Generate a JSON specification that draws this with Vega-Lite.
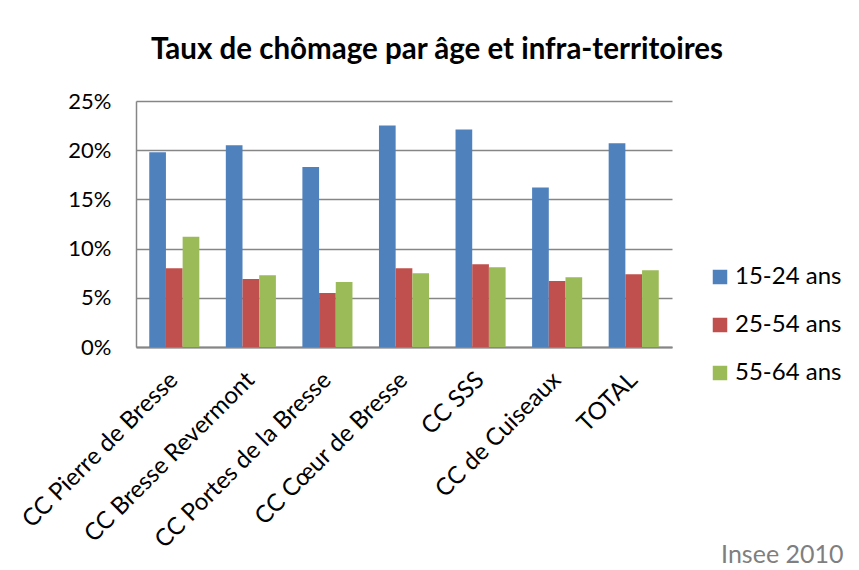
{
  "$schema": "https://vega.github.io/schema/vega-lite/v6.json",
  "width": 536,
  "height": 246,
  "autosize": {"type": "none"},
  "padding": {"left": 136, "top": 101, "right": 187, "bottom": 223},
  "background": "white",
  "title": {
    "text": "Taux de chômage par âge et infra-territoires",
    "font": "Lato",
    "fontSize": 29.5,
    "fontWeight": "bold",
    "color": "#000000",
    "anchor": "middle",
    "dx": 33,
    "baseline": "alphabetic",
    "offset": 2
  },
  "data": {
    "values": [
      {"territoire": "CC Pierre de Bresse", "age": "15-24 ans", "taux": 0.198},
      {"territoire": "CC Pierre de Bresse", "age": "25-54 ans", "taux": 0.080},
      {"territoire": "CC Pierre de Bresse", "age": "55-64 ans", "taux": 0.112},
      {"territoire": "CC Bresse Revermont", "age": "15-24 ans", "taux": 0.205},
      {"territoire": "CC Bresse Revermont", "age": "25-54 ans", "taux": 0.069},
      {"territoire": "CC Bresse Revermont", "age": "55-64 ans", "taux": 0.073},
      {"territoire": "CC Portes de la Bresse", "age": "15-24 ans", "taux": 0.183},
      {"territoire": "CC Portes de la Bresse", "age": "25-54 ans", "taux": 0.055},
      {"territoire": "CC Portes de la Bresse", "age": "55-64 ans", "taux": 0.066},
      {"territoire": "CC Cœur de Bresse", "age": "15-24 ans", "taux": 0.225},
      {"territoire": "CC Cœur de Bresse", "age": "25-54 ans", "taux": 0.080},
      {"territoire": "CC Cœur de Bresse", "age": "55-64 ans", "taux": 0.075},
      {"territoire": "CC SSS", "age": "15-24 ans", "taux": 0.221},
      {"territoire": "CC SSS", "age": "25-54 ans", "taux": 0.084},
      {"territoire": "CC SSS", "age": "55-64 ans", "taux": 0.081},
      {"territoire": "CC de Cuiseaux", "age": "15-24 ans", "taux": 0.162},
      {"territoire": "CC de Cuiseaux", "age": "25-54 ans", "taux": 0.067},
      {"territoire": "CC de Cuiseaux", "age": "55-64 ans", "taux": 0.071},
      {"territoire": "TOTAL", "age": "15-24 ans", "taux": 0.207},
      {"territoire": "TOTAL", "age": "25-54 ans", "taux": 0.074},
      {"territoire": "TOTAL", "age": "55-64 ans", "taux": 0.078}
    ]
  },
  "mark": {"type": "bar"},
  "encoding": {
    "x": {
      "field": "territoire",
      "type": "nominal",
      "sort": null,
      "scale": {"paddingInner": 0.346, "paddingOuter": 0.173},
      "axis": {
        "title": "Insee 2010",
        "titleFont": "Lato",
        "titleFontSize": 25,
        "titleFontWeight": "normal",
        "titleColor": "#7f7f7f",
        "titleAnchor": "end",
        "titleAlign": "right",
        "titleBaseline": "alphabetic",
        "titleX": 707,
        "titleY": 215,
        "labelAngle": -45,
        "labelAlign": "right",
        "labelBaseline": "middle",
        "labelPadding": 29,
        "labelFont": "Lato",
        "labelFontSize": 24,
        "labelColor": "#000000",
        "labelLimit": 400,
        "ticks": false,
        "domainColor": "#868686",
        "domainWidth": 2,
        "grid": false
      }
    },
    "xOffset": {"field": "age", "type": "nominal", "scale": {"paddingInner": 0, "paddingOuter": 0}},
    "y": {
      "field": "taux",
      "type": "quantitative",
      "scale": {"domain": [0, 0.25], "nice": false},
      "axis": {
        "title": null,
        "format": ".0%",
        "values": [0, 0.05, 0.1, 0.15, 0.2, 0.25],
        "labelFont": "Lato",
        "labelFontSize": 22,
        "labelColor": "#000000",
        "labelPadding": 25,
        "ticks": false,
        "domainColor": "#868686",
        "domainWidth": 1.5,
        "gridColor": "#868686",
        "gridWidth": 1.5,
        "gridOpacity": 1
      }
    },
    "color": {
      "field": "age",
      "type": "nominal",
      "scale": {"domain": ["15-24 ans", "25-54 ans", "55-64 ans"], "range": ["#4F81BD", "#C0504D", "#9BBB59"]},
      "legend": {
        "title": null,
        "orient": "none",
        "legendX": 572,
        "legendY": 164,
        "symbolType": "square",
        "symbolSize": 210,
        "symbolStrokeWidth": 0,
        "symbolOpacity": 1,
        "labelFont": "Lato",
        "labelFontSize": 24,
        "labelColor": "#000000",
        "labelOffset": 3,
        "rowPadding": 24
      }
    }
  },
  "config": {
    "view": {"stroke": null}
  }
}
